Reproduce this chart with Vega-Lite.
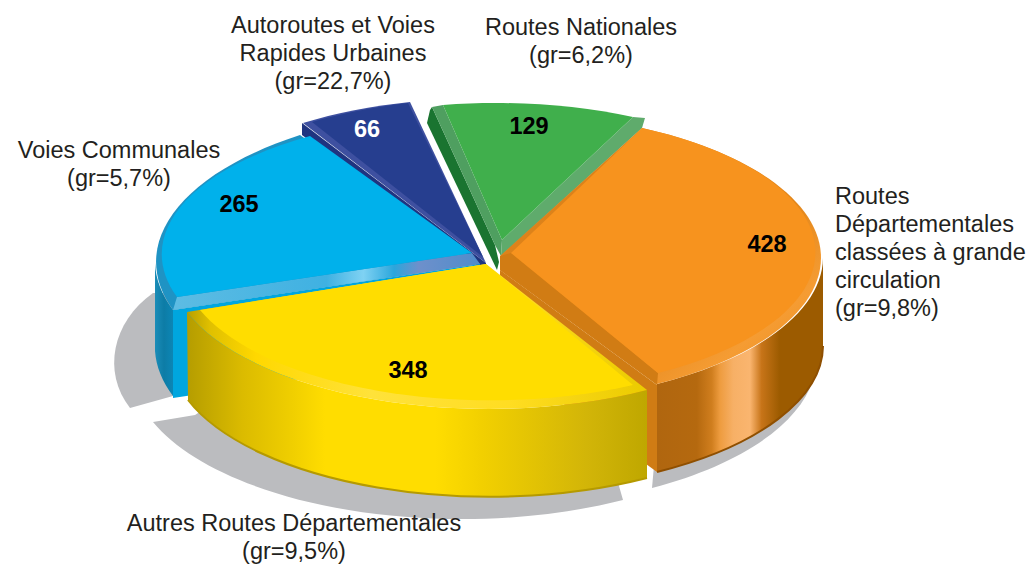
{"$schema":"https://vega.github.io/schema/vega-lite/v6.json","width":1030,"height":564,"autosize":{"type":"fit","contains":"padding"},"padding":0,"background":"white","config":{"view":{"stroke":null},"text":{"font":"Liberation Sans","fontSize":23.5,"color":"#231F20","lineHeight":28.1,"lineBreak":"\n","align":"center","baseline":"middle"},"point":{"filled":true,"size":4,"opacity":1,"strokeWidth":0}},"data":{"values":[
{"category":"Autoroutes et Voies Rapides Urbaines","value":66,"growth":"22,7%","label":"Autoroutes et Voies\nRapides Urbaines\n(gr=22,7%)"},
{"category":"Routes Nationales","value":129,"growth":"6,2%","label":"Routes Nationales\n(gr=6,2%)"},
{"category":"Voies Communales","value":265,"growth":"5,7%","label":"Voies Communales\n(gr=5,7%)"},
{"category":"Routes Départementales classées à grande circulation","value":428,"growth":"9,8%","label":"Routes\nDépartementales\nclassées à grande\ncirculation\n(gr=9,8%)"},
{"category":"Autres Routes Départementales","value":348,"growth":"9,5%","label":"Autres Routes Départementales\n(gr=9,5%)"}
]},
"resolve":{"scale":{"shape":"independent","fill":"independent"}},
"layer":[
{"transform":[{"filter":"datum.value==265"}],"mark":{"type":"point","fill":"#BBBCBF","shape":"M-362,11C-403,40 -413,90 -385,126L-342,114L-342,11Z"},"encoding":{}},
{"transform":[{"filter":"datum.value==348"}],"mark":{"type":"point","fill":"#BBBCBF","shape":"M-362,140A330,150 0 0 0 108,218L100,190L-300,120L-320,133Z"},"encoding":{}},
{"transform":[{"filter":"datum.value==428"}],"mark":{"type":"point","fill":"#BBBCBF","shape":"M137,206A330,150 0 0 0 298,98L142,150Z"},"encoding":{}},

{"transform":[{"filter":"datum.value==66"}],"mark":{"type":"point","fill":"#1F3480","shape":"M-213,-159L-213,-147L-29,-10L-29,-19Z"},"encoding":{}},
{"transform":[{"filter":"datum.value==66"}],"mark":{"type":"point","fill":"#3E50A0","shape":"M-29,-19L-212,-159A320,145 0 0 1 -105,-180Z"},"encoding":{}},
{"transform":[{"filter":"datum.value==129"}],"mark":{"type":"point","fill":"#1A7430","shape":"M-85,-172L-88,-159L-18,-12L-16,-20L-20,-37L-83,-175Z"},"encoding":{}},
{"transform":[{"filter":"datum.value==129"}],"mark":{"type":"point","fill":"#4F9F60","shape":"M-83,-175L-72,-177L-13,-42L-14,-26L-20,-37Z"},"encoding":{}},
{"transform":[{"filter":"datum.value==129"}],"mark":{"type":"point","fill":"#5FAB6C","shape":"M-14,-26L-13,-42L118,-165L130,-164L127,-154Z"},"encoding":{}},

{"transform":[{"filter":"datum.value==265"}],"mark":{"type":"point","fill":{"gradient":"linear","x1":0,"x2":1,"y1":0,"y2":0,"stops":[{"offset":0,"color":"#1B8DB8"},{"offset":0.5,"color":"#0D7CA6"},{"offset":1,"color":"#0C86B5"}]},"shape":"M-360,-19A345,156 0 0 0 -342,28L-342,114A345,156 0 0 1 -360,69Z"},"encoding":{}},
{"transform":[{"filter":"datum.value==265"}],"mark":{"type":"point","fill":"#00A6DF","shape":"M-342,28L-35,-18L-35,70L-342,116Z"},"encoding":{}},
{"transform":[{"filter":"datum.value==428"}],"mark":{"type":"point","fill":{"gradient":"linear","x1":0,"x2":1,"y1":0,"y2":0,"stops":[{"offset":0,"color":"#B0660F"},{"offset":0.24,"color":"#B5690F"},{"offset":0.33,"color":"#D07E1E"},{"offset":0.38,"color":"#EE9C3F"},{"offset":0.46,"color":"#F7B066"},{"offset":0.56,"color":"#FAB56F"},{"offset":0.63,"color":"#C77418"},{"offset":0.74,"color":"#9C5B00"},{"offset":1,"color":"#9C5B00"}]},"shape":"M142,102A323,145 0 0 0 308,-24L308,64A323,145 0 0 1 142,190Z"},"encoding":{}},
{"transform":[{"filter":"datum.value==428"}],"mark":{"type":"point","filled":false,"stroke":"#8F4F00","strokeWidth":2,"shape":"M142,190A323,145 0 0 0 308,64"},"encoding":{}},
{"transform":[{"filter":"datum.value==428"}],"mark":{"type":"point","fill":"#D07C14","shape":"M-15,-12L142,103L142,190L-15,76Z"},"encoding":{}},
{"transform":[{"filter":"datum.value==348"}],"mark":{"type":"point","fill":{"gradient":"linear","x1":0,"x2":1,"y1":0,"y2":0,"stops":[{"offset":0,"color":"#B59D00"},{"offset":0.12,"color":"#DBBB00"},{"offset":0.23,"color":"#F0CF00"},{"offset":0.3,"color":"#FFDD00"},{"offset":0.54,"color":"#FFDD00"},{"offset":0.64,"color":"#F2D000"},{"offset":0.87,"color":"#D2B508"},{"offset":1,"color":"#BFA700"}]},"shape":"M132,108A320,145 0 0 1 -328,30L-327,118A320,145 0 0 0 132,196Z"},"encoding":{}},
{"transform":[{"filter":"datum.value==348"}],"mark":{"type":"point","filled":false,"stroke":"#B59A00","strokeWidth":2,"shape":"M-327,118A320,145 0 0 0 132,196"},"encoding":{}},

{"transform":[{"filter":"datum.value==265"}],"mark":{"type":"point","fill":"#1F93C4","shape":"M-35,-18L-215,-147A345,156 0 0 0 -342,28Z"},"encoding":{}},
{"transform":[{"filter":"datum.value==265"}],"mark":{"type":"point","fill":{"gradient":"linear","x1":0,"x2":1,"y1":0,"y2":0,"stops":[{"offset":0,"color":"#5DBCE3"},{"offset":0.5,"color":"#3FB1E2"},{"offset":0.62,"color":"#7FD2F3"},{"offset":0.72,"color":"#2BA6DC"},{"offset":0.8,"color":"#6E90CB"},{"offset":1,"color":"#4F8CCB"}]},"shape":"M-342,28L-338,15L-43,-29L-35,-18Z"},"encoding":{}},
{"transform":[{"filter":"datum.value==428"}],"mark":{"type":"point","fill":{"gradient":"linear","x1":0,"x2":1,"y1":0,"y2":1,"stops":[{"offset":0,"color":"#D9801A"},{"offset":0.6,"color":"#E2861A"},{"offset":0.8,"color":"#F59C33"},{"offset":1,"color":"#E88B1C"}]},"shape":"M-15,-26L127,-154A323,145 0 0 1 142,102L-15,-12Z"},"encoding":{}},
{"transform":[{"filter":"datum.value==428"}],"mark":{"type":"point","fill":"#D17C14","shape":"M-15,-26L-4,-29L143,91L142,103L-15,-12Z"},"encoding":{}},
{"transform":[{"filter":"datum.value==348"}],"mark":{"type":"point","fill":{"gradient":"linear","x1":0,"x2":1,"y1":0,"y2":0,"stops":[{"offset":0,"color":"#B89F00"},{"offset":0.05,"color":"#E0C000"},{"offset":0.15,"color":"#FFD800"},{"offset":0.4,"color":"#FFE23A"},{"offset":0.7,"color":"#FFDD22"},{"offset":1,"color":"#EBCB00"}]},"shape":"M-29,-18L132,108A320,145 0 0 1 -328,30Z"},"encoding":{}},

{"mark":{"type":"point"},"encoding":{
"shape":{"field":"value","type":"nominal","legend":null,"scale":{"domain":[66,129,265,428,348],"range":["M-32,-25L-203,-160A320,145 0 0 1 -107,-179Z","M-13,-42L-72,-177A320,145 0 0 1 118,-165Z","M-43,-29L-205,-146A313,139 0 0 0 -338,15Z","M-4,-29L127,-154A313,139 0 0 1 143,91Z","M-29,-18L118,103A311,139 0 0 1 -315,28Z"]}},
"fill":{"field":"value","type":"nominal","legend":null,"scale":{"domain":[66,129,265,428,348],"range":["#263E8F","#40AF4C","#00B1EB","#F7931E","#FFDD00"]}}}},

{"transform":[{"filter":"datum.value==66"}],"mark":{"type":"text","fontWeight":"bold","color":"#FFFFFF","dx":-148,"dy":-152},"encoding":{"text":{"field":"value","type":"quantitative"}}},
{"transform":[{"filter":"datum.value==129"}],"mark":{"type":"text","fontWeight":"bold","color":"#000000","dx":14,"dy":-155},"encoding":{"text":{"field":"value","type":"quantitative"}}},
{"transform":[{"filter":"datum.value==265"}],"mark":{"type":"text","fontWeight":"bold","color":"#000000","dx":-276,"dy":-77},"encoding":{"text":{"field":"value","type":"quantitative"}}},
{"transform":[{"filter":"datum.value==428"}],"mark":{"type":"text","fontWeight":"bold","color":"#000000","dx":252,"dy":-37},"encoding":{"text":{"field":"value","type":"quantitative"}}},
{"transform":[{"filter":"datum.value==348"}],"mark":{"type":"text","fontWeight":"bold","color":"#000000","dx":-107,"dy":89},"encoding":{"text":{"field":"value","type":"quantitative"}}},

{"transform":[{"filter":"datum.value==66"}],"mark":{"type":"text","dx":-182,"dy":-256},"encoding":{"text":{"field":"label","type":"nominal"}}},
{"transform":[{"filter":"datum.value==129"}],"mark":{"type":"text","dx":66,"dy":-254},"encoding":{"text":{"field":"label","type":"nominal"}}},
{"transform":[{"filter":"datum.value==265"}],"mark":{"type":"text","dx":-396,"dy":-131},"encoding":{"text":{"field":"label","type":"nominal"}}},
{"transform":[{"filter":"datum.value==428"}],"mark":{"type":"text","align":"left","dx":320,"dy":-85},"encoding":{"text":{"field":"label","type":"nominal"}}},
{"transform":[{"filter":"datum.value==348"}],"mark":{"type":"text","dx":-221,"dy":242},"encoding":{"text":{"field":"label","type":"nominal"}}}
]}
